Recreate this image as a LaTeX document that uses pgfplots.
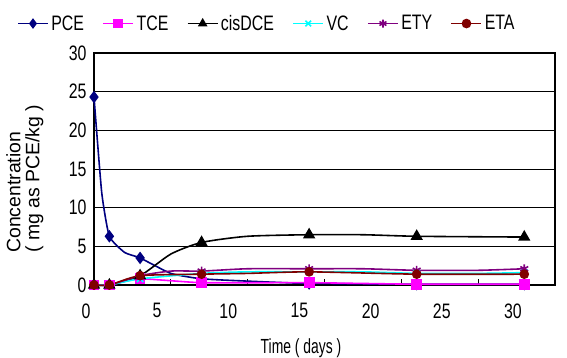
\documentclass[border=0pt]{standalone}
\usepackage{pgfplots}
\pgfplotsset{compat=1.18}
\usepackage{fontspec}
\setmainfont{Liberation Sans}
\newfontfamily\narrow{Liberation Sans}[FakeStretch=0.76]
\newfontfamily\narrowb{Liberation Sans}[FakeStretch=0.68]
\definecolor{cpce}{RGB}{0,0,128}
\definecolor{ctce}{RGB}{255,0,255}
\definecolor{cvc}{RGB}{0,255,255}
\definecolor{cety}{RGB}{128,0,128}
\definecolor{ceta}{RGB}{128,0,0}
\begin{document}
\begin{tikzpicture}
\begin{axis}[
  at={(0,0)}, anchor=south west,
  scale only axis, width=461bp, height=232bp,
  xmin=0, xmax=30, ymin=0, ymax=30,
  xtick={0,5,...,30}, ytick={0,5,...,30},
  ymajorgrids, major grid style={black, line width=1pt},
  axis line style={black, line width=1.3pt},
  xtick pos=bottom, ytick pos=left,
  xtick align=inside, major tick length=6bp,
  ytick style={draw=none},
  xtick style={black, line width=1pt},
  /pgf/number format/assume math mode=true,
  tick label style={font=\narrow\fontsize{21}{23}\selectfont},
  xticklabel style={yshift=-15bp, xshift={-8bp-5.67bp*\ticknum}},
  yticklabel style={xshift=-4bp},
  xlabel={Time ( days )},
  xlabel style={font=\narrowb\fontsize{20.5}{23}\selectfont, at={(axis description cs:0.449,-0.297)}, anchor=base, inner sep=0pt},
  ylabel={Concentration\\( mg as PCE/kg )},
  ylabel style={font=\fontsize{19.5}{19}\selectfont, align=left, rotate=0, at={(axis description cs:-0.15,0.138)}, anchor=west, inner sep=0pt},
  legend columns=6,
  legend style={draw=none, fill=none, at={(axis description cs:-0.167,1.127)}, anchor=west, inner sep=0pt,
    font=\narrow\fontsize{21}{23}\selectfont,
    nodes={inner sep=1.5bp},
    column sep=1bp,
    /tikz/every even column/.append style={column sep=17bp}},
  legend image code/.code={\draw[#1, mark indices={2}, mark size=4bp] plot coordinates {(0bp,0bp)(15bp,0bp)(30bp,0bp)};},
  every axis plot/.append style={line width=1.6pt},
  clip=false,
]
\addplot[cpce, smooth, tension=0.3, mark=diamond*, mark size=5bp, mark indices={1,3,5,7,9,10,11}]
  coordinates {(0,24.3)(0.5,12)(1,6.3)(2,4.2)(3,3.5)(5,1.5)(7,0.8)(10,0.5)(14,0.2)(21,0.1)(28,0.1)};
\addlegendentry{PCE}
\addplot[ctce, smooth, tension=0.3, mark=square*, mark size=4.6bp]
  coordinates {(0,0)(1,0)(3,0.8)(7,0.3)(14,0.3)(21,0.1)(28,0.1)};
\addlegendentry{TCE}
\addplot[black, smooth, tension=0.4, mark=triangle*, mark size=5.5bp, mark indices={1,2,3,5,7,9,10}]
  coordinates {(0,0)(1,0)(3,1.2)(5,4)(7,5.5)(10,6.3)(14,6.5)(17.5,6.5)(21,6.3)(28,6.2)};
\addlegendentry{cisDCE}
\addplot[cvc, smooth, tension=0.4, mark=x, mark size=4.5bp, mark indices={1,2,3,4,6,8,10}]
  coordinates {(0,0)(1,0)(3,0.8)(7,1.5)(10,1.7)(14,1.7)(17.5,1.7)(21,1.5)(25,1.5)(28,1.6)};
\addlegendentry{VC}
\addplot[cety, smooth, tension=0.4, mark=asterisk, mark size=4.5bp, mark indices={1,2,3,5,7,9,11}]
  coordinates {(0,0)(1,0)(3,1.2)(5,1.8)(7,1.8)(10,2.1)(14,2.1)(17.5,2.1)(21,1.9)(25,1.9)(28,2.1)};
\addlegendentry{ETY}
\addplot[ceta, smooth, tension=0.4, mark=*, mark size=4bp, mark indices={1,2,3,4,6,7,8}]
  coordinates {(0,0)(1,0)(3,1.2)(7,1.4)(10,1.5)(14,1.7)(21,1.4)(28,1.4)};
\addlegendentry{ETA}
\end{axis}
\pgfresetboundingbox
\path[use as bounding box] (-94bp,-73bp) rectangle (473bp,285bp);
\end{tikzpicture}
\end{document}
